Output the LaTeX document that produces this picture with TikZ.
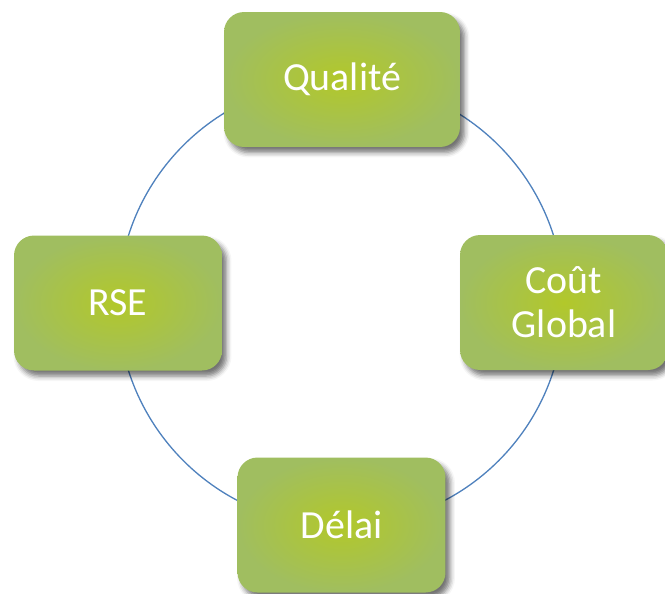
\documentclass[tikz,border=0pt]{standalone}
\usepackage{fontspec}
\setmainfont{Carlito}
\usetikzlibrary{shadows.blur}
\definecolor{boxgreen}{RGB}{178,200,42}
\definecolor{boxedge}{RGB}{160,190,96}
\definecolor{ringblue}{RGB}{79,129,189}
\tikzset{
  goalbox/.style={rounded corners=0.4cm, inner color=boxgreen, outer color=boxedge,
    text=white, align=center, minimum width=4.16cm, minimum height=2.7cm,
    font=\fontsize{22.7}{25}\selectfont,
    blur shadow={shadow xshift=0.09cm, shadow yshift=-0.11cm, shadow blur radius=0.1cm, shadow opacity=55}},
  ring/.style={ringblue, line width=0.75pt}
}

\begin{document}
\begin{tikzpicture}[x=0.02cm, y=-0.02cm]
            \useasboundingbox (0,0) rectangle (665,593);
            \coordinate (centre) at (341,303);
            \draw[ring] (centre) circle (4.46cm);
            \node[goalbox, minimum width=4.72cm] (qualite) at (342,79.5) {Qualité};
            \node[goalbox] (rse) at (118,303) {RSE};
            \node[goalbox] (cout) at (564,302.5) {Coût\\Global};
            \node[goalbox] (delai) at (341.5,525) {Délai};
        \end{tikzpicture}
\end{document}
